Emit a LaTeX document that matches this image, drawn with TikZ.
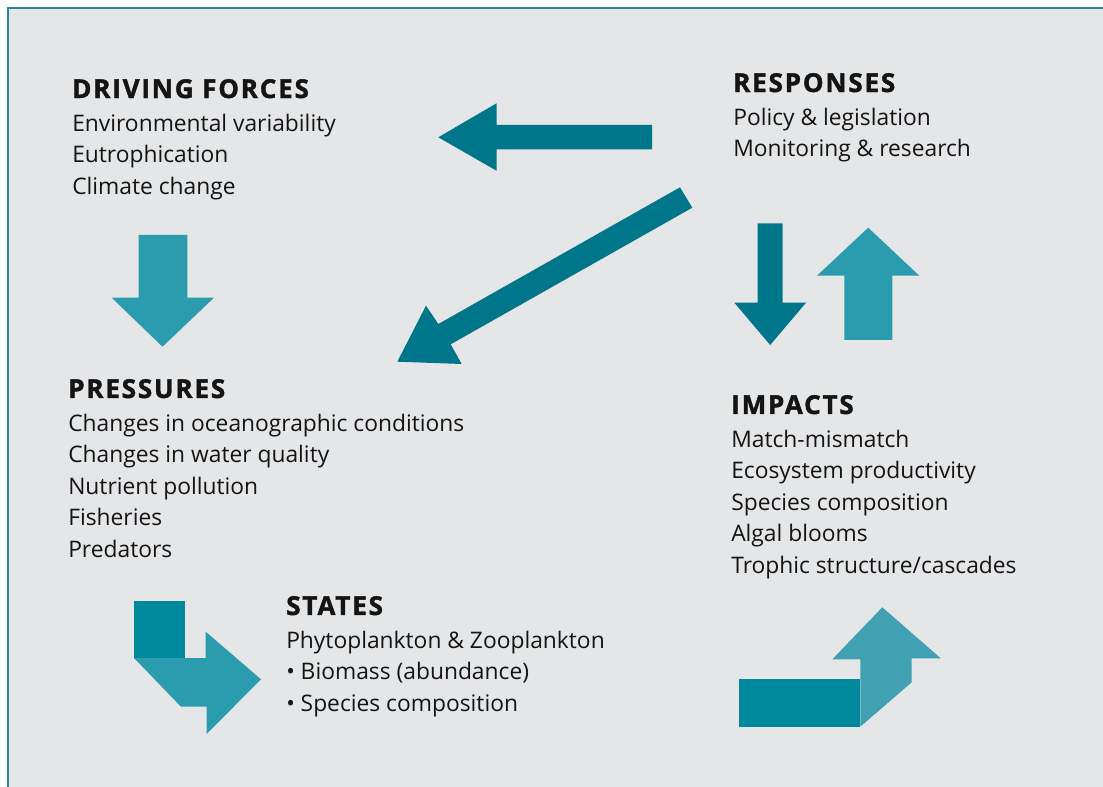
\documentclass[tikz,border=0pt]{standalone}
\usepackage{fontspec}
\setmainfont{Open Sans}
\definecolor{frameteal}{RGB}{46,130,153}
\definecolor{panelgrey}{RGB}{229,230,232}
\definecolor{arrowdark}{RGB}{0,118,138}
\definecolor{arrowmid}{RGB}{0,137,156}
\definecolor{arrowlight}{RGB}{43,155,174}
\definecolor{arrowpale}{RGB}{65,160,178}
\definecolor{inkblack}{RGB}{20,20,20}
\newcommand{\blockhead}[1]{{\fontsize{19.5}{20}\selectfont\bfseries
  \addfontfeatures{LetterSpace=7,FakeBold=1.6}#1}}

\begin{document}
\begin{tikzpicture}[
      x=0.75pt, y=-0.75pt,
      blk/.style  ={anchor=north west, inner sep=0pt, align=left, text=inkblack,
                    font=\fontsize{17.1}{23.6}\selectfont},
      dark/.style ={fill=arrowdark},
      mid/.style  ={fill=arrowmid},
      light/.style={fill=arrowlight},
      pale/.style ={fill=arrowpale}
    ]
    \useasboundingbox (0,0) rectangle (1103,787);
    % --- panel ---
    \fill[panelgrey] (8,8) rectangle (1103,787);
    \draw[frameteal, line width=1.5pt] (8,787) -- (8,8) -- (1103,8);
    % --- text blocks ---
    \node[blk] (driving) at (72,78.9) {\blockhead{DRIVING FORCES}\\[1.5pt]
      Environmental variability\\Eutrophication\\Climate change};
    \node[blk] (responses) at (733,72.9) {\blockhead{RESPONSES}\\[1.5pt]
      Policy \& legislation\\Monitoring \& research};
    \node[blk] (pressures) at (68,378.9) {\blockhead{PRESSURES}\\[1.5pt]
      Changes in oceanographic conditions\\Changes in water quality\\
      Nutrient pollution\\Fisheries\\Predators};
    \node[blk] (impacts) at (731,394.9) {\blockhead{IMPACTS}\\[1.5pt]
      Match-mismatch\\Ecosystem productivity\\Species composition\\
      Algal blooms\\Trophic structure/cascades};
    \node[blk] (states) at (286,595.9) {\blockhead{STATES}\\[1.5pt]
      Phytoplankton \& Zooplankton\\• Biomass (abundance)\\• Species composition};
    % --- block arrows ---
    % responses -> driving forces
    \fill[dark] (652,125) -- (652,149.3) -- (496.5,149.3) -- (496.5,170.7)
      -- (438.3,137.3) -- (496.5,103.3) -- (496.5,125) -- cycle;
    % responses -> pressures
    \fill[dark] (680,187.3) -- (692.3,207.7) -- (450.7,344.3) -- (461.7,364)
      -- (397.3,361.7) -- (426,305.7) -- (438.3,324) -- cycle;
    % driving forces -> pressures
    \fill[light] (138.7,235) -- (187.3,235) -- (187.3,297.7) -- (214,297.7)
      -- (162.5,346.7) -- (111.7,297.7) -- (138.7,297.7) -- cycle;
    % responses <-> impacts
    \fill[dark] (757.7,223.3) -- (782.7,223.3) -- (782.7,302.7) -- (806,302.7)
      -- (770.2,345) -- (734.3,302.7) -- (757.7,302.7) -- cycle;
    \fill[light] (844.3,340) -- (892.3,340) -- (892.3,275.7) -- (919.3,275.7)
      -- (868.2,227.7) -- (817,275.7) -- (844.3,275.7) -- cycle;
    % pressures -> states
    \fill[light] (134,658) -- (205.7,658) -- (205.7,631.7) -- (261,679.3)
      -- (206.7,734) -- (206.7,706.7) -- (181,706.7) -- cycle;
    \fill[mid] (134,600.7) rectangle (184.7,658);
    % states -> impacts
    \fill[mid] (739,679) rectangle (860.3,726.7);
    \fill[pale] (860.3,726.7) -- (911.7,682.3) -- (911.7,658.3) -- (940.7,658.3)
      -- (882.3,607.3) -- (832.3,659.3) -- (860.3,659.3) -- cycle;
  \end{tikzpicture}
\end{document}
